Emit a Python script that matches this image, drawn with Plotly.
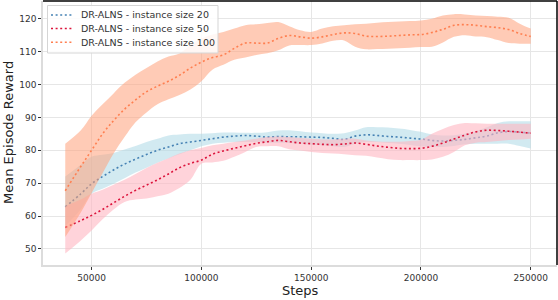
import plotly.graph_objects as go

steps = [38000, 45000, 50000, 55000, 60000, 65000, 70000, 75000, 80000, 85000, 90000, 95000,
         100000, 105000, 110000, 115000, 120000, 125000, 130000, 135000, 140000, 145000,
         150000, 155000, 160000, 165000, 170000, 175000, 180000, 185000, 190000, 195000,
         200000, 205000, 210000, 215000, 220000, 225000, 230000, 235000, 240000, 245000, 250000]

# instance size 20
mean_20 = [62.8, 66.7, 69.8, 72.0, 74.0, 75.8, 77.3, 78.7, 80.0, 81.0, 82.0, 82.5,
           83.0, 83.5, 84.0, 84.3, 84.5, 84.3, 84.0, 84.2, 84.1, 84.1,
           84.0, 83.9, 83.6, 83.3, 84.3, 84.7, 84.5, 84.2, 84.0, 83.7,
           83.4, 83.0, 82.8, 83.0, 83.3, 83.8, 84.3, 85.3, 85.7, 85.5, 85.2]
upper_20 = [72.0, 75.5, 78.0, 78.6, 79.2, 80.2, 81.3, 82.5, 83.5, 84.5, 84.8, 85.0,
            85.0, 85.2, 85.4, 85.4, 85.3, 85.3, 85.5, 86.0, 86.1, 85.8,
            85.4, 85.2, 85.0, 85.2, 86.0, 87.0, 87.0, 86.9, 86.6, 86.2,
            85.6, 84.8, 84.5, 84.6, 85.0, 85.8, 87.0, 88.3, 88.8, 88.8, 88.8]
lower_20 = [57.0, 62.0, 66.8, 68.3, 69.8, 71.5, 73.2, 74.7, 76.2, 77.5, 78.8, 80.0,
            81.2, 82.0, 82.3, 82.5, 82.5, 82.5, 82.3, 82.3, 82.2, 82.0,
            81.7, 81.5, 81.2, 81.0, 82.0, 82.5, 82.5, 82.2, 82.0, 81.6,
            81.2, 81.0, 81.0, 81.3, 81.8, 82.0, 82.0, 82.0, 82.0, 81.3, 80.5]

# instance size 50
mean_50 = [56.5, 58.6, 60.2, 62.0, 64.0, 66.0, 67.8, 69.4, 71.0, 72.8, 74.7, 76.0,
           77.0, 78.8, 79.8, 80.6, 81.4, 82.1, 82.6, 83.0, 82.6, 82.2,
           82.0, 81.8, 81.7, 81.9, 82.2, 81.8, 81.3, 80.9, 80.6, 80.5,
           80.6, 81.2, 82.2, 83.4, 84.6, 85.6, 86.1, 86.0, 85.8, 85.5, 85.2]
upper_50 = [63.0, 65.0, 66.8, 68.0, 69.5, 71.0, 72.8, 74.6, 76.2, 77.6, 79.0, 80.0,
            80.7, 81.5, 82.0, 82.5, 83.0, 83.5, 84.0, 84.2, 84.0, 83.7,
            83.5, 83.3, 83.3, 83.5, 83.5, 83.0, 82.7, 82.6, 82.6, 82.8,
            83.2, 85.0, 86.5, 87.7, 88.3, 88.2, 88.1, 88.1, 88.1, 88.1, 88.1]
lower_50 = [48.6, 52.5, 55.6, 59.0, 62.0, 64.3, 65.0, 65.3, 66.0, 66.8, 68.5, 71.0,
            75.9, 76.3, 76.8, 78.0, 79.5, 81.0, 81.2, 81.2, 80.3, 79.9,
            79.5, 79.2, 79.0, 78.8, 78.5, 78.3, 77.8, 77.3, 77.0, 77.0,
            77.0, 77.2, 78.0, 79.5, 81.5, 82.3, 82.5, 82.8, 83.1, 83.3, 83.5]

# instance size 100
mean_100 = [67.7, 75.0, 80.0, 85.0, 89.0, 92.5, 95.3, 97.8, 99.5, 101.0, 102.8, 105.0,
            106.8, 108.2, 109.0, 111.0, 112.6, 112.6, 112.6, 114.0, 114.9, 114.5,
            114.1, 114.5, 115.2, 115.7, 115.5, 114.7, 114.6, 114.7, 114.9, 115.1,
            115.2, 115.8, 116.8, 118.0, 118.2, 118.0, 117.6, 117.3, 116.7, 115.5, 114.6]
upper_100 = [82.0, 86.0, 90.5, 94.0, 97.3, 100.5, 103.0, 105.0, 107.0, 108.5, 109.4, 112.0,
             114.0, 115.2, 116.0, 117.0, 118.0, 118.3, 118.7, 119.0, 117.7, 116.5,
             116.0, 117.0, 117.7, 118.0, 118.3, 118.5, 118.8, 119.0, 119.2, 119.3,
             119.5, 120.0, 121.0, 121.4, 121.3, 121.0, 120.8, 120.6, 120.3, 118.5, 117.0]
lower_100 = [53.6, 61.0, 67.0, 73.0, 79.0, 84.0, 88.5, 91.5, 94.0, 95.5, 96.8, 98.5,
             101.0, 104.5, 106.0, 107.5, 108.2, 109.0, 109.5, 110.4, 111.9, 112.0,
             112.0, 112.5, 113.3, 113.4, 111.5, 110.7, 110.8, 110.9, 111.0, 111.2,
             111.4, 111.5, 112.8, 114.5, 115.0, 114.6, 114.4, 113.5, 112.6, 112.4, 112.4]

names = ["DR-ALNS - instance size 20", "DR-ALNS - instance size 50", "DR-ALNS - instance size 100"]
line_colors = ["#4682b4", "#dc143c", "#ff7f50"]
fill_colors = ["rgba(173,216,230,0.55)", "rgba(255,182,193,0.6)", "rgba(255,160,122,0.55)"]

x_ticks = [50000, 100000, 150000, 200000, 250000]
y_ticks = [50, 60, 70, 80, 90, 100, 110, 120]

W, H = 558, 300
ML, MR, MT, MB = 43, 1, 1, 35
PW, PH = W - ML - MR, H - MT - MB
DOT = "2px,2.6px"


def px_x(p):
    return (p - ML) / PW


def px_y(p):
    return 1 - (p - MT) / PH


fig = go.Figure()
for name, m, up, lo, lc, fc in zip(names, [mean_20, mean_50, mean_100], [upper_20, upper_50, upper_100],
                                   [lower_20, lower_50, lower_100], line_colors, fill_colors):
    fig.add_trace(go.Scatter(x=steps, y=lo, mode="lines", line=dict(width=0, shape="spline", smoothing=1),
                             showlegend=False, hoverinfo="skip"))
    fig.add_trace(go.Scatter(x=steps, y=up, mode="lines", line=dict(width=0, shape="spline", smoothing=1),
                             fill="tonexty", fillcolor=fc, showlegend=False, hoverinfo="skip"))
    fig.add_trace(go.Scatter(x=steps, y=m, mode="lines", name=name, showlegend=False,
                             line=dict(color=lc, width=1.6, dash=DOT, shape="spline", smoothing=1)))

# legend (drawn as box + samples + text)
shapes = [
    dict(type="rect", xref="paper", yref="paper", x0=px_x(47.5), x1=px_x(218), y0=px_y(53), y1=px_y(5.5),
         line=dict(color="#d5d5d5", width=1), fillcolor="rgba(255,255,255,0.85)", layer="above"),
]
annotations = []
row_y = [15, 28.5, 42.3]
for name, lc, ry in zip(names, line_colors, row_y):
    shapes.append(dict(type="line", xref="paper", yref="paper", x0=px_x(51), x1=px_x(72), y0=px_y(ry), y1=px_y(ry),
                       line=dict(color=lc, width=1.6, dash=DOT), layer="above"))
    annotations.append(dict(text=name, xref="paper", yref="paper", x=px_x(78.5), y=px_y(ry), xanchor="left",
                            yanchor="middle", showarrow=False, font=dict(size=9.5, color="#333333")))

shapes += [
    dict(type="line", xref="paper", yref="paper", x0=0, x1=1, y0=1, y1=1, line=dict(color="black", width=1.5)),
    dict(type="line", xref="paper", yref="paper", x0=1, x1=1, y0=0, y1=1, line=dict(color="black", width=1.5)),
]
annotations += [
    dict(text="Steps", xref="paper", yref="paper", x=0.5, y=px_y(290), xanchor="center", yanchor="middle",
         showarrow=False, font=dict(size=13, color="#222222")),
    dict(text="Mean Episode Reward", xref="paper", yref="paper", x=px_x(8), y=0.5, xanchor="center",
         yanchor="middle", textangle=-90, showarrow=False, font=dict(size=13, color="#222222")),
]

fig.update_layout(
    width=W, height=H,
    margin=dict(l=ML, r=MR, t=MT, b=MB, autoexpand=False),
    paper_bgcolor="white", plot_bgcolor="white",
    font=dict(family="DejaVu Sans", color="#222222"),
    showlegend=False,
    xaxis=dict(range=[27864, 261955], tickvals=x_ticks, ticktext=[str(v) for v in x_ticks],
               showgrid=True, gridcolor="#e6e6e6", gridwidth=1, zeroline=False, automargin=False,
               showline=True, linecolor="#dcdcdc", linewidth=1.5,
               ticks="outside", ticklen=3, tickcolor="#333333", tickfont=dict(size=9, color="#333333")),
    yaxis=dict(range=[45.1, 125.4], tickvals=y_ticks, automargin=False,
               showgrid=True, gridcolor="#e6e6e6", gridwidth=1, zeroline=False,
               showline=True, linecolor="#dcdcdc", linewidth=1.5,
               ticks="outside", ticklen=3, tickcolor="#333333", tickfont=dict(size=9, color="#333333")),
    shapes=shapes,
    annotations=annotations,
)

fig.write_html("out.html", config={"displayModeBar": False},
               post_script="document.body.style.margin='0';document.body.style.padding='0';")
